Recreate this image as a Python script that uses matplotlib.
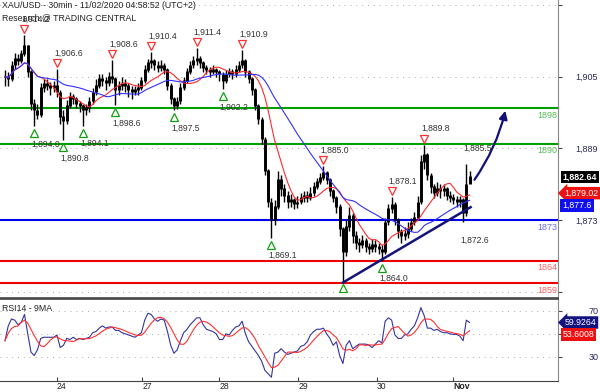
import numpy as np
import pandas as pd
import matplotlib
matplotlib.use('Agg')
import matplotlib.pyplot as plt
from matplotlib.transforms import offset_copy, blended_transform_factory
from matplotlib.patches import FancyArrowPatch

plt.rcParams['font.family'] = ['Liberation Sans', 'DejaVu Sans']

close = [1905.0, 1904.5, 1907.5, 1909.0, 1908.5, 1910.0, 1912.0, 1906.0, 1899.0, 1897.5,
         1896.5, 1902.5, 1903.5, 1903.0, 1902.5, 1903.0, 1901.5, 1896.0, 1895.0, 1898.5,
         1900.5, 1900.0, 1899.0, 1898.5, 1897.5, 1898.0, 1899.5, 1901.5, 1903.0, 1904.5,
         1904.0, 1903.5, 1905.0, 1904.5, 1902.0, 1903.0, 1903.5, 1903.0, 1902.0, 1901.5,
         1902.0, 1902.5, 1904.0, 1906.5, 1908.0, 1908.5, 1907.5, 1907.0, 1907.5, 1906.5,
         1903.0, 1900.0, 1898.5, 1899.5, 1902.5, 1904.0, 1906.0, 1907.5, 1908.5, 1909.0,
         1908.0, 1907.0, 1906.5, 1906.0, 1906.5, 1906.0, 1905.5, 1904.0, 1905.5, 1906.0,
         1905.5, 1906.5, 1907.5, 1908.5, 1906.0, 1904.5, 1902.0, 1898.5, 1895.5, 1891.0,
         1884.0, 1877.0, 1873.0, 1876.0, 1882.0, 1880.0, 1878.5, 1877.0, 1877.5, 1876.5,
         1877.0, 1878.0, 1878.5, 1878.0, 1879.0, 1880.5, 1881.5, 1882.5, 1883.5, 1882.0,
         1879.5, 1878.0, 1876.0, 1871.0, 1866.0, 1871.5, 1874.0, 1869.5, 1868.0, 1867.5,
         1868.5, 1867.0, 1866.5, 1867.5, 1867.0, 1866.5, 1866.0, 1872.5, 1875.5, 1876.5,
         1873.0, 1870.5, 1869.5, 1870.0, 1871.0, 1872.5, 1873.5, 1877.0, 1886.0, 1887.5,
         1883.0, 1880.5, 1879.0, 1880.0, 1879.5, 1880.0, 1878.5, 1878.0, 1877.5, 1877.0,
         1877.5, 1874.5, 1881.0, 1882.64]
high = [1906.5, 1906.0, 1908.5, 1910.2, 1910.0, 1911.0, 1914.2, 1912.0, 1906.5, 1900.0,
        1899.0, 1903.5, 1904.5, 1904.5, 1903.8, 1904.0, 1906.6, 1902.0, 1897.5, 1899.8,
        1901.5, 1901.2, 1900.5, 1899.5, 1899.0, 1899.0, 1900.5, 1902.5, 1904.5, 1905.5,
        1905.5, 1905.0, 1906.0, 1908.6, 1905.0, 1904.0, 1905.0, 1904.5, 1903.5, 1903.0,
        1903.0, 1903.5, 1905.0, 1907.5, 1909.0, 1910.4, 1909.0, 1908.5, 1908.8, 1908.0,
        1907.0, 1903.5, 1900.5, 1900.5, 1903.5, 1905.0, 1907.0, 1908.5, 1909.5, 1911.4,
        1909.5, 1908.5, 1907.5, 1907.2, 1907.5, 1907.0, 1906.5, 1906.0, 1906.5, 1907.0,
        1906.8, 1907.5, 1908.5, 1910.9, 1909.0, 1906.5, 1905.0, 1902.5, 1899.0, 1896.0,
        1891.5, 1884.5, 1878.0, 1877.5, 1884.0, 1883.0, 1881.0, 1879.5, 1878.8, 1878.0,
        1878.5, 1879.0, 1879.5, 1879.5, 1880.5, 1881.5, 1882.5, 1883.5, 1885.0, 1884.0,
        1882.5, 1880.0, 1878.5, 1876.5, 1871.5, 1873.0, 1876.0, 1874.5, 1870.5, 1869.0,
        1869.8, 1869.0, 1868.0, 1868.8, 1868.5, 1868.0, 1867.5, 1873.5, 1876.5, 1878.1,
        1877.0, 1873.5, 1871.0, 1871.5, 1872.5, 1873.5, 1874.8, 1878.5, 1887.5, 1889.8,
        1888.0, 1883.5, 1881.0, 1881.5, 1881.0, 1881.0, 1880.5, 1879.5, 1878.8, 1878.5,
        1878.5, 1878.0, 1885.5, 1884.0]
low = [1903.0, 1902.8, 1904.0, 1906.8, 1907.5, 1908.0, 1909.5, 1905.0, 1897.5, 1894.0,
       1895.5, 1896.0, 1901.5, 1902.0, 1901.0, 1901.5, 1900.5, 1894.5, 1890.8, 1894.5,
       1898.0, 1898.8, 1898.0, 1897.0, 1894.1, 1896.5, 1897.0, 1899.0, 1901.0, 1902.5,
       1903.0, 1902.0, 1903.0, 1903.5, 1898.6, 1901.0, 1902.0, 1901.5, 1900.5, 1900.0,
       1900.8, 1901.0, 1902.0, 1903.5, 1906.0, 1907.0, 1906.5, 1906.0, 1906.2, 1905.5,
       1902.0, 1899.0, 1897.5, 1897.8, 1899.0, 1902.0, 1903.5, 1905.5, 1907.0, 1907.5,
       1907.0, 1906.0, 1905.5, 1905.0, 1905.5, 1905.0, 1904.0, 1902.2, 1903.5, 1905.0,
       1904.5, 1905.0, 1906.0, 1907.0, 1905.0, 1903.5, 1901.0, 1897.5, 1894.5, 1890.0,
       1883.0, 1876.0, 1869.1, 1872.0, 1875.5, 1878.5, 1877.0, 1875.8, 1876.0, 1875.5,
       1875.8, 1876.5, 1877.0, 1877.0, 1877.5, 1878.5, 1880.0, 1881.0, 1882.0, 1881.0,
       1878.5, 1877.0, 1874.5, 1869.5, 1859.5, 1865.0, 1870.5, 1868.0, 1866.5, 1866.0,
       1866.8, 1865.8, 1865.5, 1866.0, 1866.0, 1865.5, 1864.0, 1865.5, 1872.0, 1874.5,
       1872.0, 1869.0, 1868.0, 1868.5, 1869.0, 1870.5, 1872.0, 1873.0, 1876.5, 1884.5,
       1882.0, 1879.0, 1878.0, 1878.5, 1878.0, 1878.5, 1877.5, 1877.0, 1876.5, 1876.0,
       1876.0, 1872.6, 1874.0, 1881.5]
rsi = [44, 57, 63, 62, 58, 60, 67, 50, 34, 31,
       36, 46, 47, 47, 47, 47, 49, 38, 40, 46,
       45, 47, 45, 46, 45, 46, 47, 51, 52, 55,
       57, 55, 56, 56, 53, 53, 51, 50, 49, 48,
       47, 49, 51, 62, 68, 67, 63, 61, 63, 62,
       52, 40, 33, 36, 44, 51, 54, 58, 61, 64,
       64, 58, 54, 53, 52, 50, 45, 45, 50, 49,
       53, 56, 57, 61, 50, 43, 39, 35, 31, 26,
       18, 15, 12, 33, 34, 37, 34, 32, 33, 34,
       35, 39, 40, 43, 49, 52, 54, 54, 55, 50,
       46, 40, 43, 31, 24, 40, 44, 37, 39, 41,
       41, 41, 40, 38, 41, 44, 42, 61, 64, 62,
       49, 46, 46, 49, 50, 54, 57, 64, 73, 66,
       55, 55, 53, 54, 52, 51, 51, 50, 49.5, 49.5,
       48, 44, 62, 59.93]

day_labels = ['24', '27', '28', '29', '30', 'Nov']
day_pos = [16.0, 42.2, 65.9, 90.2, 114.5, 137.9]

level_prices = [1898, 1890, 1873, 1864, 1859]
level_colors = ['#00a000', '#00a000', '#0000ee', '#ee0000', '#ee0000']
level_text_colors = ['#55bb55', '#55bb55', '#6a6aee', '#ff6060', '#ff6060']

peak_idx = [6, 16, 33, 45, 59, 73, 98, 119, 129, 142]
peak_marker = [True, True, True, True, True, True, True, True, True, False]
trough_idx = [9, 18, 24, 34, 52, 67, 82, 104, 116, 141]
trough_marker = [True, True, True, True, True, True, True, True, True, False]
trough_label = [True, True, True, True, True, True, True, False, True, True]

trend_x = [104.0, 143.3]
trend_y = [1859.1, 1875.9]
arrow_x = [144.0, 154.2]
arrow_y = [1881.5, 1898.0]

ma_fast_value = 1879.02
ma_slow_value = 1877.6
rsi_ma_value = 53.6008
rsi_value = 59.9264

# ---------------- figure ----------------
W, H = 600, 392
fig = plt.figure(figsize=(W / 100, H / 100), dpi=100)
ax = fig.add_axes([0, 1 - 298 / H, 558 / W, 298 / H])
ax2 = fig.add_axes([0, 1 - 381 / H, 558 / W, 82 / H], sharex=ax)

n = len(close)
idx = np.arange(n)
s = pd.Series(close)
opens = s.shift(1).fillna(s.iloc[0]).values

ax.vlines(idx, low, high, color='black', lw=1.0, zorder=3)
ax.vlines(idx, np.minimum(opens, close), np.maximum(opens, close) + 0.15,
          color='black', lw=2.1, zorder=3)

ma_fast = s.rolling(10, min_periods=1).mean()
ma_slow = s.rolling(25, min_periods=1).mean()
ax.plot(idx, ma_fast, color='#ff2a2a', lw=0.8, zorder=4)
ax.plot(idx, ma_slow, color='#3030ff', lw=0.8, zorder=4)

for p, c in zip(level_prices, level_colors):
    ax.axhline(p, color=c, lw=1.5, zorder=2)
tr = blended_transform_factory(ax.transAxes, ax.transData)
for p, c in zip(level_prices, level_text_colors):
    t = offset_copy(tr, fig=fig, x=-1, y=-7, units='dots')
    ax.text(1.0, p, str(p), transform=t, ha='right', va='center',
            fontsize=6.5, color=c, zorder=6)

ax.plot(trend_x, trend_y, color='#14147a', lw=1.8, zorder=5)
arr = FancyArrowPatch((arrow_x[0], arrow_y[0]), (arrow_x[1], arrow_y[1]),
                      arrowstyle='-|>', mutation_scale=12, lw=1.6,
                      color='#10107a', connectionstyle='arc3,rad=0.1', zorder=5)
ax.add_patch(arr)

# pivots
for i, m in zip(peak_idx, peak_marker):
    if m:
        t = offset_copy(ax.transData, fig=fig, x=0, y=6, units='dots')
        ax.plot(i, high[i], marker='v', ms=6, mfc='white', mec='#ff3030', mew=0.9,
                transform=t, zorder=6, clip_on=False)
    t2 = offset_copy(ax.transData, fig=fig, x=-3, y=16, units='dots')
    ax.text(i, high[i], f"{high[i]:,.1f}", transform=t2, ha='left', va='center',
            fontsize=6.2, color='#333333', zorder=6)
for i, m, lb in zip(trough_idx, trough_marker, trough_label):
    if m:
        t = offset_copy(ax.transData, fig=fig, x=0, y=-7, units='dots')
        ax.plot(i, low[i], marker='^', ms=6, mfc='white', mec='#10a010', mew=0.9,
                transform=t, zorder=6)
    if lb:
        t2 = offset_copy(ax.transData, fig=fig, x=-3, y=-18, units='dots')
        ax.text(i, low[i], f"{low[i]:,.1f}", transform=t2, ha='left', va='center',
                fontsize=6.2, color='#333333', zorder=6)

ax.set_xlim(-1.54, 170.2)
ax.set_ylim(1855.66, 1922.07)
ax.yaxis.tick_right()
ax.set_yticks([1857, 1873, 1889, 1905, 1921])
ax.set_yticklabels(['', '1,873', '1,889', '1,905', ''])
ax.tick_params(axis='y', length=3, pad=26, colors='#444444', labelcolor='#2a2a55',
               labelsize=6.5, width=0.8)
for lab in ax.get_yticklabels():
    lab.set_ha('right')
ax.grid(axis='y', linestyle=(0, (1, 5)), color='#aaaaaa', lw=0.7, zorder=1)
ax.tick_params(axis='x', bottom=False, labelbottom=False)
for sp in ['top', 'left']:
    ax.spines[sp].set_visible(False)
ax.spines['right'].set_color('#888888')
ax.spines['bottom'].set_color('#444444')
ax.spines['bottom'].set_linewidth(1.2)

# value boxes
ax.text(1.008, close[-1], f"{close[-1]:,.2f}", transform=tr, ha='left', va='center',
        fontsize=6.3, color='white', weight='bold', clip_on=False,
        bbox=dict(boxstyle='square,pad=0.2', fc='black', ec='none'))
ax.text(1.012, ma_fast_value, f"{ma_fast_value:,.2f}", transform=tr, ha='left', va='center',
        fontsize=6.3, color='white', clip_on=False,
        bbox=dict(boxstyle='larrow,pad=0.2', fc='#ee1111', ec='none'))
t = offset_copy(tr, fig=fig, x=0, y=-6, units='dots')
ax.text(1.008, ma_slow_value, f"{ma_slow_value:,.1f}", transform=t, ha='left', va='center',
        fontsize=6.3, color='white', clip_on=False,
        bbox=dict(boxstyle='square,pad=0.25', fc='#1010ee', ec='none'))

# RSI panel
rs = pd.Series(rsi)
ax2.plot(idx, rs, color='#3434a0', lw=0.8, zorder=3)
ax2.plot(idx, rs.rolling(5, min_periods=1).mean(), color='#ff3030', lw=0.8, zorder=3)
ax2.set_ylim(8.7, 80.5)
ax2.yaxis.tick_right()
ax2.set_yticks([30, 50, 70])
ax2.set_yticklabels(['30', '', '70'])
ax2.tick_params(axis='y', length=3, pad=26, colors='#444444', labelcolor='#2a2a55',
                labelsize=6.5, width=0.8)
for lab in ax2.get_yticklabels():
    lab.set_ha('right')
ax2.grid(axis='y', linestyle=(0, (1, 5)), color='#aaaaaa', lw=0.7)
ax2.spines['left'].set_visible(False)
ax2.spines['right'].set_color('#888888')
ax2.spines['top'].set_color('#444444')
ax2.spines['top'].set_linewidth(1.2)
ax2.spines['bottom'].set_color('#444444')
ax2.set_xticks(day_pos)
ax2.set_xticklabels(day_labels)
ax2.tick_params(axis='x', direction='in', length=3, pad=0.5, labelsize=6.2,
                colors='#444444', labelcolor='#222222', width=0.8)
for lab in ax2.get_xticklabels():
    lab.set_ha('left')
    if lab.get_text() == 'Nov':
        lab.set_weight('bold')
ax2.text(0.004, 0.88, 'RSI14 - 9MA', transform=ax2.transAxes, fontsize=6.3,
         color='#222222', va='center', ha='left')

tr2 = blended_transform_factory(ax2.transAxes, ax2.transData)
ax2.text(1.012, rsi_value, f"{rsi_value:.4f}", transform=tr2, ha='left', va='center',
         fontsize=6.3, color='white', clip_on=False,
         bbox=dict(boxstyle='larrow,pad=0.2', fc='#141480', ec='none'))
t = offset_copy(tr2, fig=fig, x=0, y=-5, units='dots')
ax2.text(1.008, rsi_ma_value, f"{rsi_ma_value:.4f}", transform=t, ha='left', va='center',
         fontsize=6.3, color='white', clip_on=False,
         bbox=dict(boxstyle='square,pad=0.2', fc='#ee1111', ec='none'))

fig.text(2 / W, 1 - 6 / H, 'XAU/USD - 30min - 11/02/2020 04:58:52 (UTC+2)',
         fontsize=6.3, color='#222222', va='center', ha='left', zorder=10)
fig.text(2 / W, 1 - 18 / H, 'Research @ TRADING CENTRAL',
         fontsize=6.3, color='#222222', va='center', ha='left', zorder=10)

fig.savefig('out.png', dpi=100)
